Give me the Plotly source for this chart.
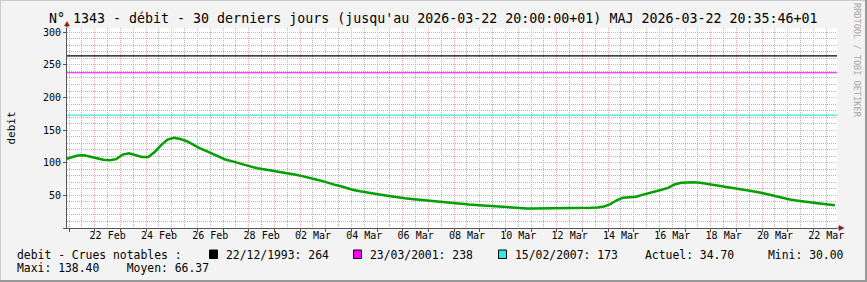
import pandas as pd
import plotly.graph_objects as go

# ---------------- data ----------------
debit = [105.5, 108.5, 111, 111.6, 109.8, 107, 104.5, 104, 105.5, 112.5,
         114.5, 112, 108.8, 108.8, 116.5, 127, 135.5, 138.4, 136.4, 133,
         127.5, 122.5, 118.3, 114.2, 110, 105, 102.5, 99.8, 96.8, 94,
         91.5, 90, 88.5, 86.8, 85.1, 83.3, 81.6, 79.5, 77.5, 74.8,
         72.3, 69, 66.5, 64, 61, 58.2, 56.2, 54.2, 52.8, 51.3,
         49.7, 48, 46.8, 45.5, 44.5, 43.5, 42.3, 41.1, 40, 39.1,
         38.3, 37.5, 36.8, 36, 35.3, 34.6, 33.8, 33.1, 32.4, 31.6,
         30.9, 30.4, 30, 30, 30, 30.3, 30.5, 30.6, 30.5, 30,
         30.4, 30.7, 31, 31.5, 32.8, 36.6, 42.5, 46.5, 47.6, 48,
         50.8, 53.8, 56, 58.6, 61.5, 66.8, 69.3, 70, 70, 69.3,
         67.7, 66, 64, 62, 60.8, 59.6, 58.3, 56.8, 55.3, 53,
         50.6, 48, 45.6, 43.6, 42, 40.5, 39.3, 38.3, 37.2, 36,
         34.7]
times = pd.date_range("2026-02-20 20:00", periods=len(debit), freq="6h")

flood_dates = ["22/12/1993", "23/03/2001", "15/02/2007"]
flood_values = [264, 238, 173]
flood_colors = ["#000000", "#ff00ff", "#33e6e6"]

x_labels = ["22 Feb", "24 Feb", "26 Feb", "28 Feb", "02 Mar", "04 Mar", "06 Mar",
            "08 Mar", "10 Mar", "12 Mar", "14 Mar", "16 Mar", "18 Mar", "20 Mar", "22 Mar"]
x_label_pos = pd.date_range("2026-02-22 12:00", periods=len(x_labels), freq="2D")
y_ticks = [0, 50, 100, 150, 200, 250, 300]
y_ticktext = ["", "50", "100", "150", "200", "250", "300"]

stat_actuel = "34.70"
stat_mini = "30.00"
stat_maxi = "138.40"
stat_moyen = "66.37"

title = "N° 1343 - débit - 30 derniers jours (jusqu'au 2026-03-22 20:00:00+01) MAJ 2026-03-22 20:35:46+01"

# ---------------- layout geometry ----------------
W, H = 867, 282
L, R, T, B = 67, 837, 28, 228
FONT = "DejaVu Sans Mono"


def xp(px):
    return (px - L) / (R - L)


def yp(py):
    return (B - py) / (B - T)


fig = go.Figure()
fig.add_trace(go.Scatter(x=times, y=debit, mode="lines",
                         line=dict(color="#00a000", width=2.5),
                         showlegend=False, hoverinfo="skip"))
# dummy trace for the label axis
fig.add_trace(go.Scatter(x=list(x_label_pos), y=[None] * len(x_labels), xaxis="x2",
                         mode="lines", showlegend=False, hoverinfo="skip"))

shapes = []
for v, c in zip(flood_values, flood_colors):
    shapes.append(dict(type="line", xref="x domain", yref="y", x0=0, x1=1, y0=v, y1=v,
                       line=dict(color=c, width=1.2), layer="above"))

AX = "#555555"
ARROW = "#8b1a1a"
# axis extensions and arrows
shapes.append(dict(type="line", xref="paper", yref="paper", x0=xp(R), x1=xp(840), y0=0, y1=0,
                   line=dict(color=AX, width=1)))
shapes.append(dict(type="line", xref="paper", yref="paper", x0=0, x1=0, y0=1, y1=yp(25),
                   line=dict(color=AX, width=1)))
shapes.append(dict(type="path", xref="paper", yref="paper",
                   path=f"M {xp(839)} {yp(225.5)} L {xp(844)} {yp(228)} L {xp(839)} {yp(230.5)} Z",
                   fillcolor=ARROW, line=dict(color=ARROW, width=0.5)))
shapes.append(dict(type="path", xref="paper", yref="paper",
                   path=f"M {xp(64.5)} {yp(26)} L {xp(67)} {yp(21.5)} L {xp(69.5)} {yp(26)} Z",
                   fillcolor=ARROW, line=dict(color=ARROW, width=0.5)))

# frame (3D shade)
shapes.append(dict(type="line", xref="paper", yref="paper", x0=xp(0), x1=xp(W), y0=yp(0.5), y1=yp(0.5),
                   line=dict(color="#cbcbcb", width=1)))
shapes.append(dict(type="line", xref="paper", yref="paper", x0=xp(0.5), x1=xp(0.5), y0=yp(0), y1=yp(H),
                   line=dict(color="#cbcbcb", width=1)))
shapes.append(dict(type="line", xref="paper", yref="paper", x0=xp(0), x1=xp(W), y0=yp(H - 1), y1=yp(H - 1),
                   line=dict(color="#999999", width=2)))
shapes.append(dict(type="line", xref="paper", yref="paper", x0=xp(W - 1), x1=xp(W - 1), y0=yp(0), y1=yp(H),
                   line=dict(color="#999999", width=2)))

annotations = []


def txt(px, py, s, size=11.4, color="#000000", anchor="left", angle=0):
    annotations.append(dict(xref="paper", yref="paper", x=xp(px), y=yp(py), text=s,
                            showarrow=False, xanchor=anchor, yanchor="middle", textangle=angle,
                            font=dict(family=FONT, size=size, color=color)))


row1, row2 = 254.5, 268
txt(15, row1, "debit - Crues notables :")
sq_x = [209.5, 353.5, 498.5]
tx_x = [223.5, 368, 513]
for sx, tx, d, v, c in zip(sq_x, tx_x, flood_dates, flood_values, flood_colors):
    shapes.append(dict(type="rect", xref="paper", yref="paper",
                       x0=xp(sx), x1=xp(sx + 8), y0=yp(250), y1=yp(258.5),
                       fillcolor=c, line=dict(color="#000000", width=1)))
    txt(tx, row1, f"{d}: {v}")
txt(642.5, row1, f"Actuel: {stat_actuel}")
txt(766, row1, f"Mini: {stat_mini}")
txt(15, row2, f"Maxi: {stat_maxi}    Moyen: {stat_moyen}")

txt(10.5, (T + B) / 2, "debit", size=11, anchor="center", angle=-90)
txt(857, 60, "RRDTOOL / TOBI OETIKER", size=8.6, color="#a8a8a8", anchor="center", angle=90)
# title
txt(W / 2, 18.5, title, size=13.3, anchor="center")

fig.update_layout(
    width=W, height=H,
    margin=dict(l=L, r=W - R, t=T, b=H - B, pad=0),
    paper_bgcolor="#f3f3f3", plot_bgcolor="#ffffff",
    font=dict(family=FONT, size=10, color="#000000"),
    xaxis=dict(type="date", range=["2026-02-20 22:00", "2026-03-22 22:00"],
               tickmode="linear", tick0="2026-02-21", dtick=86400000,
               showticklabels=False, ticks="outside", ticklen=3, tickcolor=AX,
               showgrid=True, gridcolor="#f0a8a8", griddash="1px,1px", gridwidth=1,
               minor=dict(tickmode="linear", tick0="2026-02-21", dtick=43200000,
                          showgrid=True, gridcolor="#b4b4b4", griddash="1px,1px", ticks=""),
               showline=True, linecolor=AX, linewidth=1, zeroline=False, fixedrange=True),
    xaxis2=dict(type="date", overlaying="x", anchor="y", side="bottom",
                range=["2026-02-20 22:00", "2026-03-22 22:00"],
                tickmode="array", tickvals=list(x_label_pos), ticktext=x_labels,
                ticks="", showgrid=False, showline=False, zeroline=False,
                tickfont=dict(family=FONT, size=10, color="#000000")),
    yaxis=dict(range=[0, 306.6], tickmode="array", tickvals=y_ticks, ticktext=y_ticktext,
               ticks="outside", ticklen=3, tickcolor=AX,
               showgrid=True, gridcolor="#f0a8a8", griddash="1px,1px", gridwidth=1,
               minor=dict(tickmode="linear", tick0=0, dtick=10, showgrid=True,
                          gridcolor="#b4b4b4", griddash="1px,1px", ticks=""),
               showline=True, linecolor=AX, linewidth=1, zeroline=False,
               tickfont=dict(family=FONT, size=10, color="#000000")),
    shapes=shapes, annotations=annotations,
)

fig.write_html("out.html")
